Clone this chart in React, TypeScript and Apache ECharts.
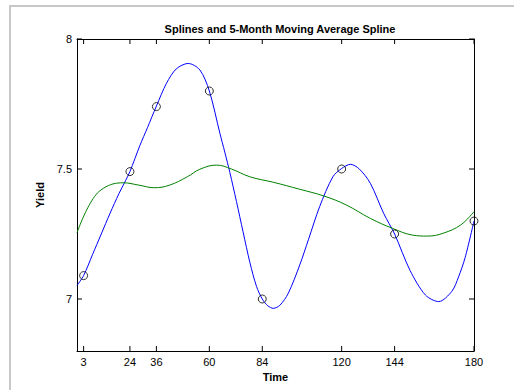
import React, { useEffect, useRef } from "react";
import * as echarts from "echarts";

const knotTimes = [3, 24, 36, 60, 84, 120, 144, 180];
const knotYields = [7.09, 7.49, 7.74, 7.8, 7.0, 7.5, 7.25, 7.3];

const splineTimes = [0, 3, 7, 11, 15, 19, 22, 24, 28.5, 32, 36, 40.6, 45, 50.4, 55.7, 60, 64.8, 67, 69.3, 72.3, 75.3, 78.4, 81.4, 84, 86.5, 89, 92, 95.8, 101, 105, 110, 116, 120, 124, 128, 133, 139, 144, 151, 158, 164, 170, 173, 176, 180];
const splineYields = [7.052, 7.09, 7.17, 7.25, 7.33, 7.405, 7.455, 7.49, 7.59, 7.66, 7.742, 7.83, 7.885, 7.906, 7.881, 7.8, 7.637, 7.565, 7.487, 7.375, 7.258, 7.14, 7.048, 7.0, 6.974, 6.964, 6.976, 7.022, 7.131, 7.23, 7.355, 7.47, 7.502, 7.518, 7.5, 7.445, 7.33, 7.25, 7.11, 7.015, 6.99, 7.03, 7.085, 7.16, 7.3];

const maTimes = [0, 6, 12, 21, 28, 35, 42, 50, 55.7, 63.3, 70, 78.4, 89, 101, 112, 122, 133, 143, 152, 159, 166, 174, 180];
const maYields = [7.255, 7.368, 7.426, 7.447, 7.438, 7.428, 7.438, 7.47, 7.499, 7.515, 7.5, 7.47, 7.449, 7.422, 7.396, 7.362, 7.31, 7.272, 7.246, 7.242, 7.253, 7.285, 7.336];

const xTicks = [3, 24, 36, 60, 84, 120, 144, 180];
const yTicks = [7, 7.5, 8];
const X_MIN = 0, X_MAX = 180, Y_MIN = 6.8, Y_MAX = 8;

const FONT = "'Liberation Sans', Arial, sans-serif";
const TICK = 5;

export default function App() {
  const ref = useRef<HTMLDivElement>(null);
  useEffect(() => {
    if (!ref.current) return;
    const chart = echarts.init(ref.current, null, { renderer: "svg" });
    const axisLine = { show: true, onZero: false, lineStyle: { color: "#000", width: 1 } };
    const tickStyle = { stroke: "#000", lineWidth: 1 };
    chart.setOption({
      animation: false,
      backgroundColor: "#fff",
      title: {
        text: "Splines and 5-Month Moving Average Spline",
        left: 275,
        top: 18,
        textAlign: "center",
        textStyle: { fontFamily: FONT, fontSize: 11, fontWeight: "bold", color: "#000" },
      },
      graphic: [
        { type: "rect", shape: { x: 9, y: 5, width: 2, height: 385 }, style: { fill: "#c8c8c8" }, silent: true },
        { type: "rect", shape: { x: 9, y: 5, width: 505, height: 2 }, style: { fill: "#c8c8c8" }, silent: true },
      ],
      grid: { left: 77, top: 39, width: 397, height: 312, containLabel: false },
      xAxis: [
        {
          type: "value", min: X_MIN, max: X_MAX, position: "bottom",
          axisLine, axisTick: { show: false }, splitLine: { show: false },
          axisLabel: { customValues: xTicks, color: "#000", fontFamily: FONT, fontSize: 11, margin: 5 },
          name: "Time", nameLocation: "middle", nameGap: 20,
          nameTextStyle: { fontFamily: FONT, fontSize: 11, fontWeight: "bold", color: "#000" },
        },
        {
          type: "value", min: X_MIN, max: X_MAX, position: "top",
          axisLine, axisTick: { show: false }, splitLine: { show: false },
          axisLabel: { show: false },
        },
      ],
      yAxis: [
        {
          type: "value", min: Y_MIN, max: Y_MAX, position: "left",
          axisLine, axisTick: { show: false }, splitLine: { show: false },
          axisLabel: { customValues: yTicks, color: "#000", fontFamily: FONT, fontSize: 11, margin: 5, formatter: (v: number) => String(v) },
          name: "Yield", nameLocation: "middle", nameGap: 28, nameRotate: 90,
          nameTextStyle: { fontFamily: FONT, fontSize: 11, fontWeight: "bold", color: "#000" },
        },
        {
          type: "value", min: Y_MIN, max: Y_MAX, position: "right",
          axisLine, axisTick: { show: false }, splitLine: { show: false },
          axisLabel: { show: false },
        },
      ],
      series: [
        {
          type: "custom",
          data: xTicks.map((t) => [t, Y_MIN]),
          silent: true,
          z: 5,
          renderItem: (_p: any, api: any) => {
            const v = api.value(0);
            const b = api.coord([v, Y_MIN]);
            const t = api.coord([v, Y_MAX]);
            return {
              type: "group",
              children: [
                { type: "line", shape: { x1: b[0], y1: b[1], x2: b[0], y2: b[1] - TICK }, style: tickStyle },
                { type: "line", shape: { x1: t[0], y1: t[1], x2: t[0], y2: t[1] + TICK }, style: tickStyle },
              ],
            };
          },
        },
        {
          type: "custom",
          data: yTicks.map((v) => [X_MIN, v]),
          silent: true,
          z: 5,
          renderItem: (_p: any, api: any) => {
            const v = api.value(1);
            const l = api.coord([X_MIN, v]);
            const r = api.coord([X_MAX, v]);
            return {
              type: "group",
              children: [
                { type: "line", shape: { x1: l[0], y1: l[1], x2: l[0] + TICK, y2: l[1] }, style: tickStyle },
                { type: "line", shape: { x1: r[0], y1: r[1], x2: r[0] - TICK, y2: r[1] }, style: tickStyle },
              ],
            };
          },
        },
        {
          type: "line",
          data: splineTimes.map((t, i) => [t, splineYields[i]]),
          smooth: 0.3, showSymbol: false, symbol: "none",
          lineStyle: { color: "#0000ff", width: 1 },
          z: 2,
        },
        {
          type: "line",
          data: maTimes.map((t, i) => [t, maYields[i]]),
          smooth: 0.4, showSymbol: false, symbol: "none",
          lineStyle: { color: "#008000", width: 1 },
          z: 2,
        },
        {
          type: "scatter",
          data: knotTimes.map((t, i) => [t, knotYields[i]]),
          symbol: "circle", symbolSize: 8,
          itemStyle: { color: "rgba(0,0,0,0)", borderColor: "#000", borderWidth: 1 },
          z: 3,
        },
      ],
    });
    return () => chart.dispose();
  }, []);
  return <div ref={ref} style={{ position: "fixed", left: 0, top: 0, width: 514, height: 390 }} />;
}
